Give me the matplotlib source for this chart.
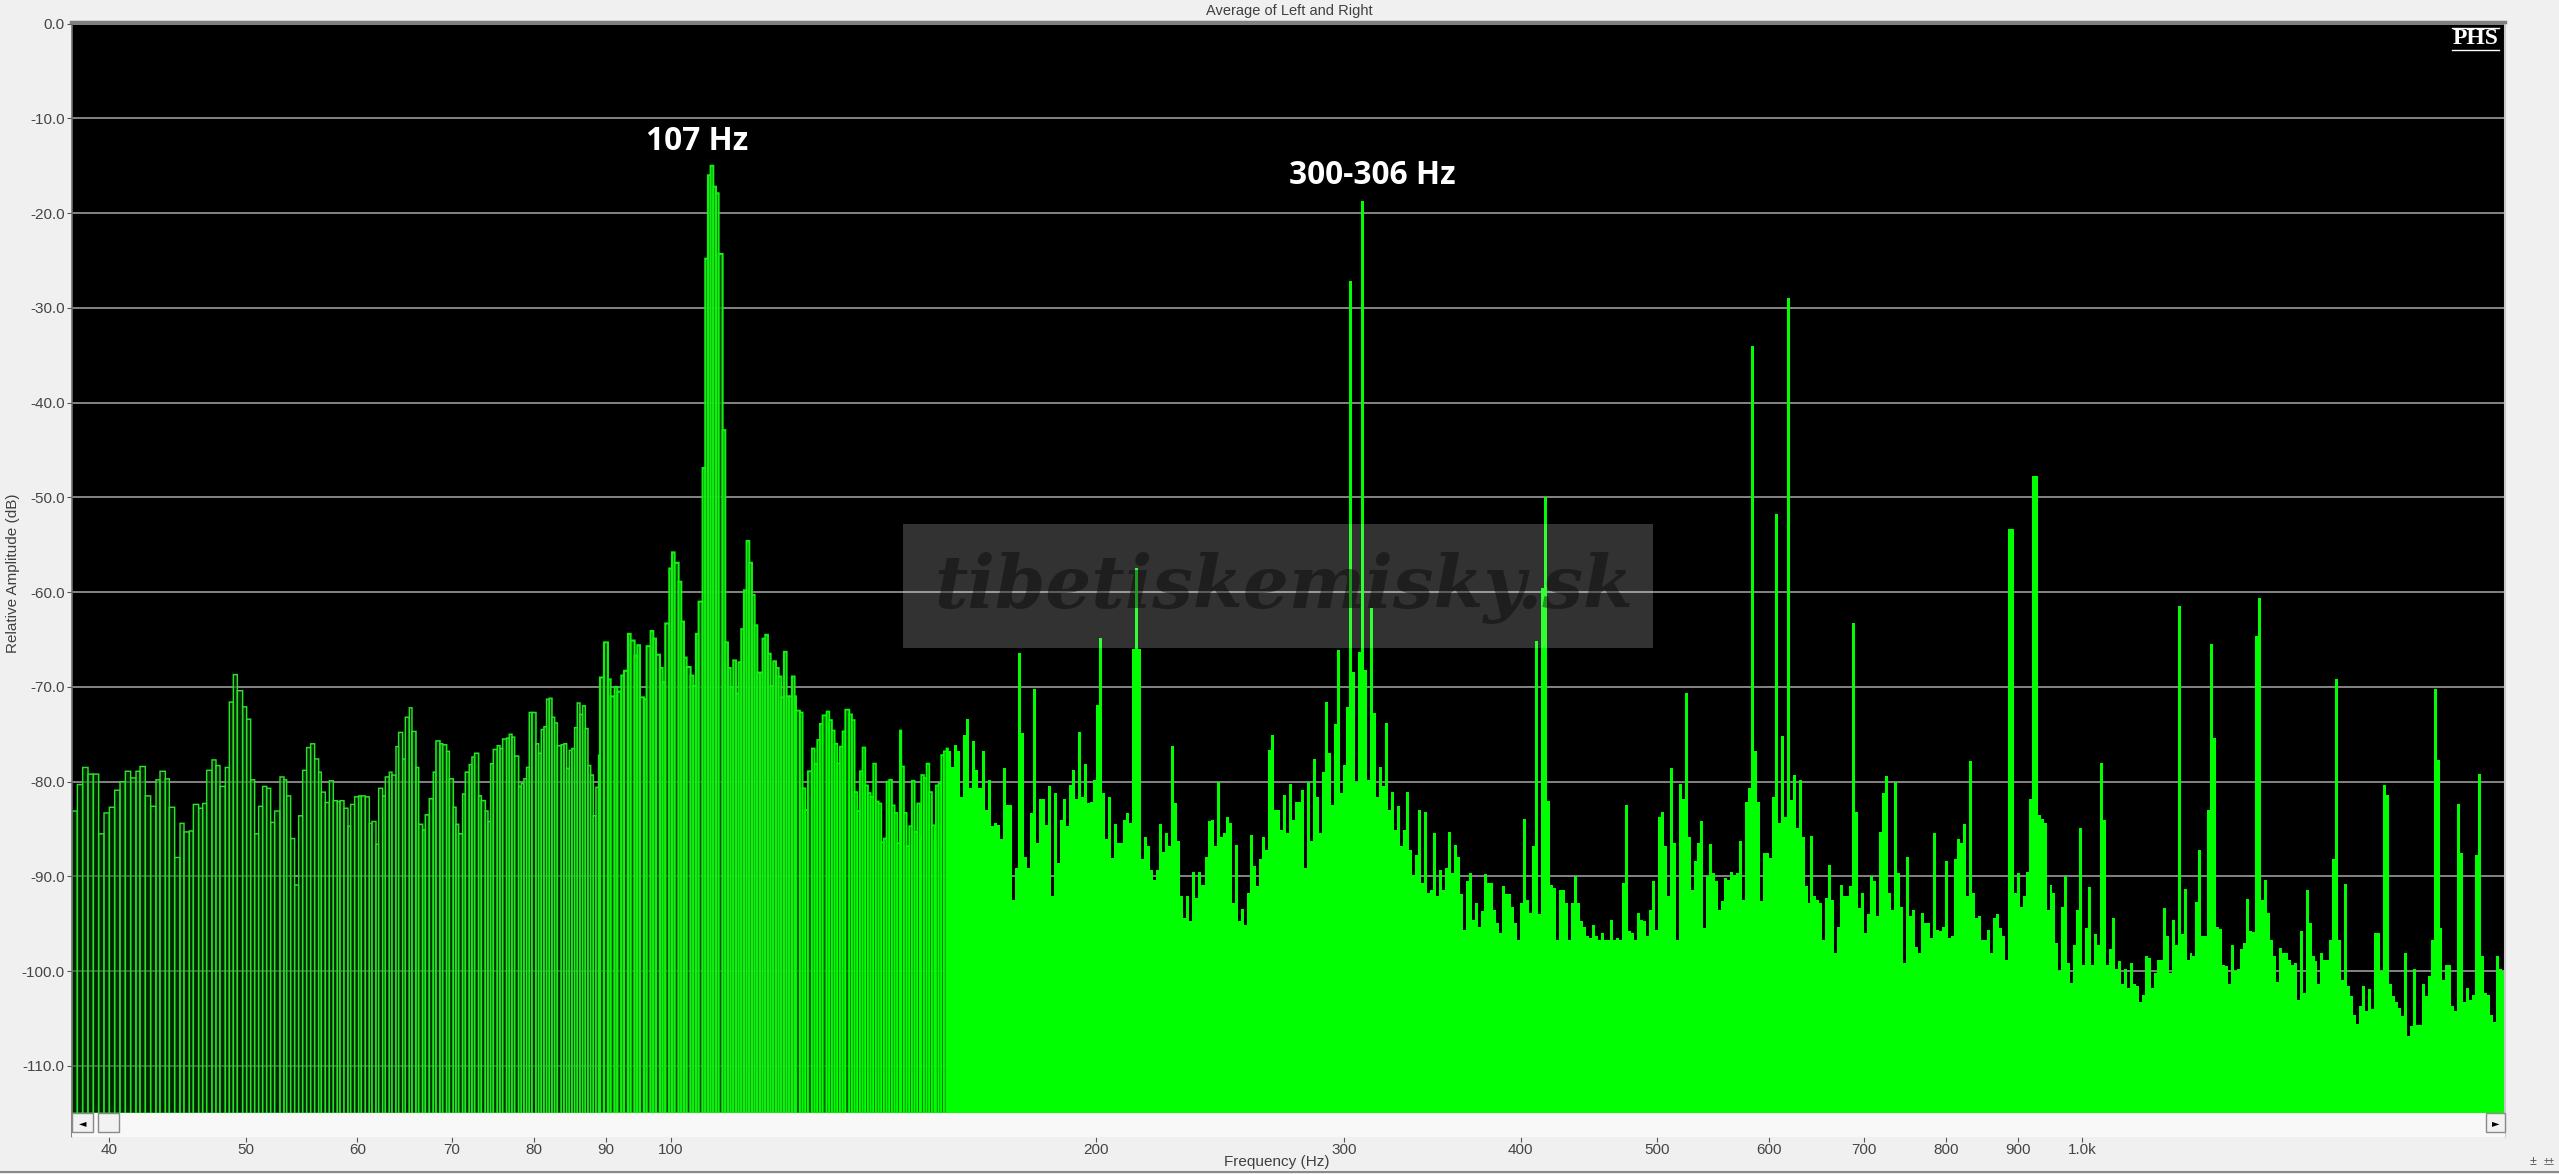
import numpy as np
import matplotlib
matplotlib.use("Agg")
import matplotlib.pyplot as plt
from matplotlib.lines import Line2D
from matplotlib.patches import Rectangle

plt.rcParams['font.family'] = ['Liberation Sans', 'DejaVu Sans']

# ---- AXIS ----
x_ticks = [40, 50, 60, 70, 80, 90, 100, 200, 300, 400, 500, 600, 700, 800, 900, 1000]
x_labels = ['40', '50', '60', '70', '80', '90', '100', '200', '300', '400', '500',
            '600', '700', '800', '900', '1.0k']
y_ticks = [0, -10, -20, -30, -40, -50, -60, -70, -80, -90, -100, -110]
y_labels = ['0.0', '-10.0', '-20.0', '-30.0', '-40.0', '-50.0', '-60.0', '-70.0',
            '-80.0', '-90.0', '-100.0', '-110.0']

# ---- SPECTRUM (dB) ----
# separate bars, low end
bars_a = [-83.1, -80.3, -78.5, -79.2, -79.2, -85.5, -83.3, -82.7, -80.9, -80.0, -78.9, -79.6,
          -78.9, -78.4, -81.5, -82.6, -79.8, -78.9, -79.7, -82.7, -88.0, -84.4, -85.3, -85.2,
          -82.4, -82.8, -82.3, -78.8, -77.7, -78.3, -80.5, -78.5, -71.6, -68.7, -70.4, -72.1,
          -73.4, -79.8, -85.5, -82.6, -80.5, -80.7, -84.3, -83.1, -79.5, -79.8, -81.5, -86.0,
          -90.9, -83.6, -78.8, -76.4, -76.0, -77.6, -79.0, -81.1, -82.2, -79.9, -82.0, -82.1,
          -82.0, -82.8, -84.7, -82.4, -81.6, -81.5, -81.5, -81.6, -84.4, -84.2, -86.6, -80.7,
          -81.5, -79.5, -79.0, -79.3, -76.3, -74.8, -77.6, -73.2, -72.2]
bars_b = [-74.7, -78.5, -84.5, -85.1, -83.5, -81.8, -79.0, -75.7, -76.0, -76.1, -76.8, -79.7,
          -82.7, -84.5, -85.5, -81.3, -79.0, -78.2, -77.4, -77.0, -81.5, -82.0, -83.1, -84.2,
          -78.1, -76.6, -76.2, -76.5, -75.5, -75.4, -75.0, -75.3, -77.3, -80.5, -80.2, -79.7,
          -78.5, -72.7, -72.7, -76.0, -77.0, -74.5, -74.2, -71.3, -71.2, -73.2, -73.8, -76.2,
          -76.1, -76.0, -78.6, -76.7, -76.5, -74.3, -71.7, -72.9, -72.0, -74.4, -78.3, -79.3,
          -83.6, -80.6, -77.2]
bars_c = [-69.0, -65.3, -69.2, -71.0, -70.0, -70.5, -68.8, -68.3, -64.4, -65.1, -66.7, -65.6,
          -71.1, -71.3, -65.7, -64.1, -64.9, -66.6, -68.0, -69.5, -63.3, -57.5, -55.8, -56.9,
          -58.9, -63.1, -66.9, -67.9, -68.8, -69.9, -64.4, -61.0, -46.9, -24.8, -16.0, -15.0,
          -17.2, -17.9, -24.3, -42.9, -65.3, -68.0, -70.0, -67.2, -70.7, -67.4, -63.9, -59.8,
          -54.6, -56.9, -60.3, -63.5, -68.5, -68.5, -64.9, -64.5, -66.5, -69.9, -67.3, -68.0,
          -68.9, -71.1, -66.3, -71.0, -71.0, -68.9, -71.0]
bars_d = [-72.5, -72.7, -80.7, -83.0, -78.9, -76.5, -78.1, -75.6, -73.9, -73.0, -72.6, -73.5,
          -74.6, -76.0, -78.1, -76.3, -74.7, -72.4, -72.9, -73.5, -81.1, -83.1, -78.9, -76.4,
          -80.4, -81.2, -81.6, -78.1, -82.1, -82.3, -86.4, -86.0, -80.0, -79.8, -82.5, -83.3,
          -86.5, -74.6, -78.4, -83.3, -86.8, -84.7, -79.9, -85.3, -82.3, -85.8, -79.3, -79.6,
          -78.1, -81.1, -84.6, -86.3, -80.4, -80.2, -77.2, -76.8, -76.5]
# solid part, one level per narrow column
solid_a = [-76.8, -78.4, -76.1, -76.8, -81.6, -75.1, -73.4, -80.7, -75.7, -78.8, -80.7, -76.8,
           -83.0, -79.8, -84.7, -84.4, -84.6, -86.0, -78.6, -82.5, -82.5, -92.5, -89.1, -66.4,
           -74.9, -87.9, -89.1, -83.3, -70.2, -86.5, -81.8, -81.8, -84.6, -80.5, -92.1, -81.2,
           -88.6, -84.0, -81.8, -84.7, -80.4, -78.8, -81.8, -74.8, -81.6, -78.1, -82.2, -82.1,
           -79.8, -71.9, -64.8, -81.2, -86.1, -81.6, -88.1, -84.5, -86.5, -86.5, -84.0, -83.3,
           -84.4, -66.0, -57.4, -66.0, -88.2, -85.8, -86.8, -89.3, -90.4, -89.3, -84.5, -87.4,
           -85.4, -86.8, -76.2, -82.3, -86.3, -92.1, -94.4, -92.1, -94.7, -89.5, -92.3, -89.5,
           -90.9, -87.9, -84.2, -84.0, -86.8, -80.0, -85.8, -85.4, -83.7, -84.4, -92.8, -86.7,
           -94.7, -93.4, -95.1, -91.8, -85.6, -88.9, -91.0, -88.2, -85.8, -87.2, -76.7, -75.1,
           -83.0, -83.0, -85.1, -81.4, -85.4, -80.2, -84.0, -82.1, -82.1, -80.9, -89.1, -80.0]
solid_b = [-86.3, -77.6, -81.6, -85.4, -79.0, -71.6, -77.0, -82.5, -73.9, -66.1, -81.2, -78.2,
           -72.1, -27.2, -68.4, -80.0, -66.3, -18.7, -68.2, -79.8, -61.7, -72.8, -81.6, -78.4,
           -80.5, -73.8, -83.0, -81.1, -85.1, -82.6, -86.8, -85.1, -81.1, -87.2, -89.8, -87.7,
           -83.0, -90.7, -83.2, -91.8, -91.4, -85.4, -92.1, -89.3, -91.4, -89.1, -85.3, -89.6,
           -86.7, -87.9, -91.9, -95.6, -90.5, -89.6, -94.6, -92.8, -95.3, -93.7, -89.7, -90.7,
           -90.7, -93.5, -94.9, -96.0, -91.0, -91.9, -91.9, -93.2, -94.9, -96.7, -92.8, -83.9,
           -92.5, -93.9, -86.8, -65.2, -94.0, -59.6, -50.0, -82.0, -90.9, -91.2, -96.7, -91.4,
           -91.4, -92.8, -96.7, -92.8, -90.0, -92.8, -94.7, -95.3, -96.3, -96.5, -95.1, -96.3,
           -96.7, -96.0, -96.7, -96.7, -94.6, -96.7, -96.5, -96.7, -90.7, -82.5, -95.8, -96.0,
           -96.7, -93.9, -94.6, -94.7, -96.3, -93.5, -90.5, -95.6, -83.7]
solid_c = [-83.2, -86.8, -92.1, -78.6, -86.5, -96.7, -80.2, -81.8, -70.6, -85.8, -91.4, -88.4,
           -86.5, -84.2, -95.4, -90.0, -86.6, -89.6, -90.5, -93.5, -92.6, -90.2, -90.4, -89.5,
           -89.8, -89.6, -86.3, -92.5, -82.1, -80.7, -34.0, -76.8, -82.1, -92.6, -87.5, -87.5,
           -88.1, -81.6, -51.7, -84.4, -75.2, -83.7, -28.9, -81.9, -79.3, -84.9, -79.8, -85.8,
           -91.0, -92.8, -85.7, -92.1, -92.5, -92.8, -96.7, -92.3, -88.8, -92.5, -98.1, -95.3,
           -90.9, -92.1, -92.1, -91.0, -63.2, -83.2, -93.3, -91.8, -96.0, -94.0, -90.0, -90.5,
           -94.2, -85.3, -81.2, -79.4, -91.8, -93.5, -80.0, -89.6, -93.2, -99.1, -88.0, -94.2,
           -93.5, -97.4, -98.1, -93.9, -94.9, -94.9, -96.5, -85.4, -95.6, -95.8, -95.3, -88.4,
           -96.5, -96.3, -88.2, -86.1, -86.5, -84.5, -92.1, -77.8, -91.8, -94.4, -94.2, -96.7,
           -96.7, -95.6, -98.1, -94.4, -94.0, -95.4, -96.3, -98.8, -53.3, -53.3, -91.8, -89.6,
           -93.2, -92.1, -89.5, -81.8, -47.7, -47.7, -83.5, -83.9, -84.4, -93.5, -90.9, -91.8,
           -97.0, -100.0, -93.2, -90.0, -99.1, -101.2, -97.2, -93.5]
solid_d = [-84.9, -99.3, -95.4, -91.1, -99.3, -96.1, -97.2, -78.0, -84.0, -99.3, -97.7, -94.4,
           -99.8, -98.9, -101.4, -99.8, -101.8, -99.1, -101.4, -101.6, -103.2, -102.5, -98.4, -98.6,
           -101.8, -100.2, -98.8, -98.8, -93.3, -96.3, -100.2, -94.6, -97.2, -61.5, -96.1, -91.3,
           -98.8, -98.1, -98.4, -92.7, -87.2, -96.3, -96.3, -83.0, -65.5, -75.4, -95.3, -95.5,
           -99.3, -99.5, -101.4, -97.2, -100.0, -99.8, -97.7, -97.0, -92.4, -95.8, -95.9, -64.6,
           -60.6, -92.5, -90.4, -93.9, -96.7, -98.4, -101.1, -97.5, -98.1, -98.1, -98.8, -99.3,
           -99.1, -103.0, -95.8, -102.3, -91.4, -94.9, -98.4, -98.9, -101.4, -98.1, -98.8, -98.8,
           -96.7, -88.2, -69.2, -96.7, -100.9, -90.8, -101.6, -102.6, -104.6, -105.6, -103.7, -101.6,
           -104.2, -101.9, -104.0, -96.0, -96.0, -100.0, -80.3, -81.4, -101.4, -102.6, -103.3, -103.9,
           -104.7, -98.1, -106.8, -105.8, -99.8, -105.7, -105.7, -101.4, -102.6, -100.5, -96.7, -70.2,
           -77.7, -95.4, -100.9, -99.3, -99.3, -103.7, -104.2, -82.4, -87.5, -103.2, -101.8, -103.0,
           -102.5, -87.7, -79.2, -98.4, -102.3, -102.5, -104.6, -105.4, -98.4, -99.8, -100.0]

# frequencies where each stretch above starts and stops (Hz)
bars_a_hz = (37.64, 65.6)
bars_b_hz = (65.6, 89.2)
bars_c_hz = (89.2, 122.8)
bars_d_hz = (122.8, 157.3)
solid_a_hz = (157.3, 283.7)
solid_b_hz = (283.7, 503.0)
solid_c_hz = (503.0, 995.0)
solid_d_hz = (995.0, 1992.0)

FLOOR = -115.0
# the screenshot was blown up from a 1920 wide screen, so bars sit on its pixel grid
SCREEN_PX_PER_DECADE = 1059.0


def on_screen_grid(freq):
    return 10 ** (np.round(np.log10(freq) * SCREEN_PX_PER_DECADE) / SCREEN_PX_PER_DECADE)


W, H = 2559, 1174
fig = plt.figure(figsize=(W / 100, H / 100), dpi=100, facecolor='#f0f0f0')
ax = fig.add_axes([71.5 / W, 1 - 1137 / H, (2505 - 71.5) / W, (1137 - 22) / H], facecolor='black')

ax.set_xscale('log')
ax.set_xlim(37.64, 1992)
ax.set_ylim(-117.5, 0.18)

ax.set_yticks(y_ticks)
ax.set_yticklabels(y_labels)
ax.set_xticks(x_ticks)
ax.set_xticklabels(x_labels)
ax.xaxis.set_minor_locator(matplotlib.ticker.NullLocator())
ax.tick_params(axis='both', labelsize=11, labelcolor='#454545', color='#555555', length=3.5, width=0.8, pad=1.5)
ax.tick_params(axis='x', pad=0.5)

ax.hlines(y_ticks, 37.64, 1992, color='#9a9a9a', lw=1.2, zorder=1)

# ---- BARS ----
styles = [(bars_a, bars_a_hz, 1.05, '#2ae02a', (0, 0.28, 0, 0.55)),
          (bars_b, bars_b_hz, 1.15, '#22e622', (0, 0.32, 0, 0.6)),
          (bars_c, bars_c_hz, 1.5, '#12f012', (0, 0.4, 0, 0.7)),
          (bars_d, bars_d_hz, 1.3, '#00ff00', (0, 0.45, 0, 0.8))]
for levels, (f0, f1), lw, edge, face in styles:
    edges = on_screen_grid(np.linspace(f0, f1, len(levels) + 1))
    heights = np.array(levels) - FLOOR
    ax.bar(edges[:-1], heights, width=np.diff(edges), bottom=FLOOR, align='edge',
           facecolor=face, edgecolor=edge, linewidth=lw, snap=False, zorder=2)

for levels, (f0, f1) in [(solid_a, solid_a_hz), (solid_b, solid_b_hz),
                         (solid_c, solid_c_hz), (solid_d, solid_d_hz)]:
    edges = np.geomspace(f0, f1, len(levels) + 1)
    ax.stairs(levels, edges, baseline=FLOOR, fill=True, color='#00ff00', lw=0, zorder=2)

# scrollbar strip under the plot
ax.axhspan(-117.5, FLOOR, color='#f8f8f8', lw=0, zorder=3)
strip = ax.get_yaxis_transform()
for px0, px1, sign in [(71.5, 93, '\u25c4'), (98, 119, ''), (2486, 2505, '\u25ba')]:
    x0 = (px0 - 71.5) / (2505 - 71.5)
    x1 = (px1 - 71.5) / (2505 - 71.5)
    ax.add_patch(Rectangle((x0, -117.0), x1 - x0, 2.0, transform=strip, fc='#f2f2f2',
                           ec='#8a8a8a', lw=1.0, zorder=4, clip_on=False))
    if sign:
        ax.text((x0 + x1) / 2, -116.0, sign, transform=strip, ha='center', va='center',
                fontsize=7, color='black', family='DejaVu Sans', zorder=5)

# ---- WATERMARK ----
ax.add_patch(Rectangle((146, -65.9), 350, 13.1, fc='white', alpha=0.2, lw=0, zorder=5))
ax.text(272, -59.6, 'tibetiskemisky.sk', ha='center', va='center', fontsize=52,
        style='italic', weight='bold', family='DejaVu Serif', color='black', alpha=0.4, zorder=6)

# ---- LABELS ----
ax.text(104.4, -12.45, '107 Hz', ha='center', va='center', color='white', fontsize=22.8,
        weight='bold', family='Open Sans', zorder=7)
ax.text(314, -16.05, '300-306 Hz', ha='center', va='center', color='white', fontsize=22.8,
        weight='bold', family='Open Sans', zorder=7)

ax.text(0.9879, 0.9848, 'PHS', transform=ax.transAxes, ha='center', va='center', color='white',
        fontsize=17, weight='bold', family='Liberation Serif', zorder=7)
ax.plot([0.9782, 0.9975], [0.9946, 0.9946], transform=ax.transAxes, color='white', lw=1.0, zorder=7)
ax.plot([0.9782, 0.9975], [0.9749, 0.9749], transform=ax.transAxes, color='white', lw=1.0, zorder=7)

fig.text(1289 / W, 1 - 11.5 / H, 'Average of Left and Right', ha='center', va='center', fontsize=10.5, color='#404040')
fig.text(1277 / W, 1 - 1162 / H, 'Frequency (Hz)', ha='center', va='center', fontsize=11, color='#404040')
fig.text(13 / W, 1 - 573 / H, 'Relative Amplitude (dB)', ha='center', va='center', rotation=90,
         fontsize=11, color='#404040')
fig.text(2533 / W, 1 - 1162 / H, '\u00b1', ha='center', va='center', fontsize=9, color='#505050')
fig.text(2549 / W, 1 - 1162 / H, '\u00b1\u00b1', ha='center', va='center', fontsize=7, color='#505050')

for side, colour, width in [('top', '#808080', 2.5), ('left', '#707070', 1.2), ('right', '#c8c8c8', 1.5), ('bottom', '#f0f0f0', 0.5)]:
    ax.spines[side].set_color(colour)
    ax.spines[side].set_linewidth(width)

fig.add_artist(Line2D([0, 1], [1 - 1172 / H, 1 - 1172 / H], color='#8a8a8a', lw=1.5))

fig.savefig('out.png', dpi=100, facecolor=fig.get_facecolor())
